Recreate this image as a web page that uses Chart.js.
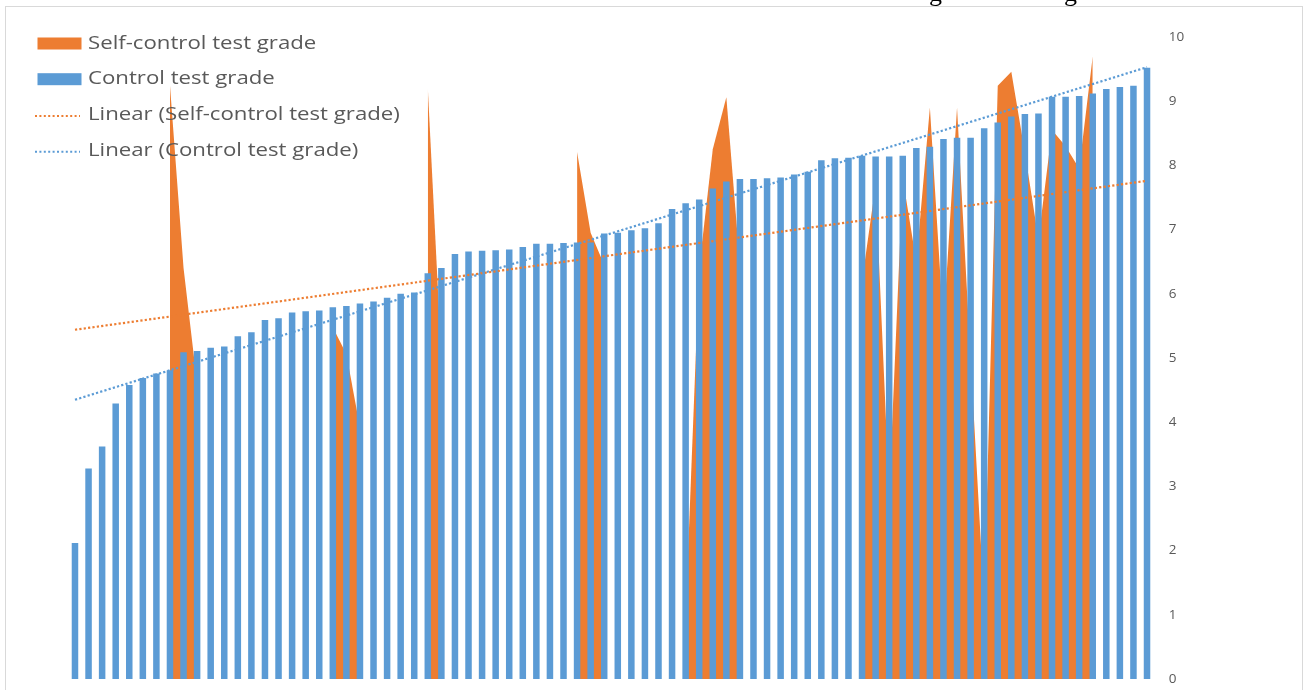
<!DOCTYPE html>
<html>
<head>
<meta charset="utf-8">
<script src="https://cdn.jsdelivr.net/npm/chart.js@4.4.1/dist/chart.umd.min.js"></script>
<style>
  html, body { margin: 0; padding: 0; background: #ffffff; }
  #wrap { position: relative; width: 1306px; height: 690px; overflow: hidden; }
  canvas { display: block; }
</style>
</head>
<body>
<div id="wrap"><canvas id="chart" width="1306" height="690"></canvas></div>
<script>
// Students 1..80, sorted by control test grade
const categories = [
  '1','2','3','4','5','6','7','8','9','10','11','12','13','14','15','16','17','18','19','20',
  '21','22','23','24','25','26','27','28','29','30','31','32','33','34','35','36','37','38','39','40',
  '41','42','43','44','45','46','47','48','49','50','51','52','53','54','55','56','57','58','59','60',
  '61','62','63','64','65','66','67','68','69','70','71','72','73','74','75','76','77','78','79','80'
];

// Control test grade (columns)
const controlGrades = [
  2.12, 3.28, 3.62, 4.29, 4.58, 4.69, 4.76, 4.81, 5.09, 5.11,
  5.16, 5.18, 5.34, 5.40, 5.59, 5.62, 5.71, 5.73, 5.74, 5.79,
  5.81, 5.85, 5.88, 5.94, 6.00, 6.02, 6.32, 6.40, 6.62, 6.66,
  6.67, 6.68, 6.69, 6.73, 6.78, 6.78, 6.79, 6.80, 6.80, 6.94,
  6.95, 6.99, 7.02, 7.10, 7.32, 7.41, 7.47, 7.64, 7.75, 7.79,
  7.79, 7.80, 7.81, 7.86, 7.90, 8.08, 8.11, 8.12, 8.15, 8.14,
  8.14, 8.15, 8.27, 8.29, 8.41, 8.43, 8.43, 8.58, 8.67, 8.76,
  8.80, 8.81, 9.07, 9.07, 9.08, 9.12, 9.19, 9.22, 9.24, 9.52
];

// Self-control test grade (area); empty cells are left as gaps
const selfControlGrades = [
  null, null, null, null, null, null, null, 9.25, 6.40, 4.60,
  null, null, null, null, null, null, null, null, null, 5.48,
  5.06, 3.92, null, null, null, null, 9.20, 5.00, null, null,
  null, null, null, null, null, null, null, 8.21, 6.95, 6.45,
  null, null, null, null, null, 1.00, 6.40, 8.25, 9.06, 6.45,
  null, null, null, null, null, null, null, null, 6.20, 7.70,
  2.90, 7.80, 6.50, 8.90, 5.50, 8.90, 5.00, 1.20, 9.24, 9.46,
  8.20, 6.85, 8.55, 8.30, 7.95, 9.70, null, null, null, null
];

// Linear trend lines: value at the first and at the last student
const selfTrendEnds = [5.44, 7.76];
const controlTrendEnds = [4.35, 9.53];

const yTicks = { min: 0, max: 10, step: 1 };

const ORANGE = '#ed7d31';
const BLUE = '#5b9bd5';
const TEXT = '#595959';

function trendSeries(ends) {
  const last = categories.length - 1;
  return categories.map((_, i) => (i === 0 ? ends[0] : i === last ? ends[1] : null));
}

// Frame, the cut-off line of text above it, and the legend drawn over the plot
const overlayPlugin = {
  id: 'overlay',
  afterDraw(chart) {
    const ctx = chart.ctx;
    ctx.save();
    // text line of the page above the chart, cut by the frame
    ctx.fillStyle = '#000000';
    ctx.font = '26px "Liberation Serif"';
    ctx.textBaseline = 'alphabetic';
    ctx.fillText('g', 929, 1);
    ctx.fillText('g', 1064, 1);
    ctx.clearRect(0, 6, 1306, 1);
    // frame
    ctx.strokeStyle = '#d9d9d9';
    ctx.lineWidth = 1;
    ctx.strokeRect(5.5, 6.5, 1297, 720);

    const rows = [
      { ds: 0, kind: 'box' },
      { ds: 1, kind: 'box' },
      { ds: 2, kind: 'dots' },
      { ds: 3, kind: 'dots' }
    ];
    const rowY = [43.5, 79.2, 115, 150.7];
    ctx.font = '18.5px "Open Sans"';
    ctx.textBaseline = 'middle';
    rows.forEach((r, k) => {
      const ds = chart.data.datasets[r.ds];
      const y = rowY[k];
      if (r.kind === 'box') {
        ctx.fillStyle = ds.backgroundColor;
        ctx.fillRect(37.5, y - 6, 44, 12);
      } else {
        ctx.strokeStyle = ds.borderColor;
        ctx.lineWidth = 2;
        ctx.setLineDash([2, 2.4]);
        ctx.beginPath();
        ctx.moveTo(35, y + 1);
        ctx.lineTo(80, y + 1);
        ctx.stroke();
        ctx.setLineDash([]);
      }
      ctx.save();
      ctx.translate(88, y);
      ctx.scale(1.2, 1);
      ctx.fillStyle = TEXT;
      ctx.fillText(ds.label, 0, 0);
      ctx.restore();
    });
    ctx.restore();
  }
};

new Chart(document.getElementById('chart'), {
  type: 'bar',
  data: {
    labels: categories,
    datasets: [
      {
        type: 'line',
        label: 'Self-control test grade',
        data: selfControlGrades,
        fill: 'origin',
        backgroundColor: ORANGE,
        borderColor: ORANGE,
        borderWidth: 0,
        pointRadius: 0,
        tension: 0,
        spanGaps: false,
        order: 3
      },
      {
        type: 'bar',
        label: 'Control test grade',
        data: controlGrades,
        backgroundColor: BLUE,
        borderWidth: 0,
        barPercentage: 0.48,
        categoryPercentage: 1,
        order: 2
      },
      {
        type: 'line',
        label: 'Linear (Self-control test grade)',
        data: trendSeries(selfTrendEnds),
        borderColor: ORANGE,
        borderWidth: 2.2,
        borderDash: [2.2, 2.2],
        pointRadius: 0,
        fill: false,
        spanGaps: true,
        order: 1
      },
      {
        type: 'line',
        label: 'Linear (Control test grade)',
        data: trendSeries(controlTrendEnds),
        borderColor: BLUE,
        borderWidth: 2.2,
        borderDash: [2.2, 2.2],
        pointRadius: 0,
        fill: false,
        spanGaps: true,
        order: 0
      }
    ]
  },
  options: {
    responsive: false,
    animation: false,
    devicePixelRatio: 1,
    layout: { padding: { left: 68.2, right: 0, top: 37, bottom: 11 } },
    plugins: { legend: { display: false }, tooltip: { enabled: false } },
    scales: {
      x: { display: false, offset: true },
      y: {
        position: 'right',
        min: yTicks.min,
        max: yTicks.max,
        ticks: {
          stepSize: yTicks.step,
          padding: 15,
          color: TEXT,
          font: { family: 'Open Sans', size: 13.5 }
        },
        grid: { display: false, drawTicks: false },
        border: { display: false },
        afterFit(scale) {
          scale.width = 1306 - 1153.8;
          scale.paddingTop = 0;
          scale.paddingBottom = 0;
        }
      }
    }
  },
  plugins: [overlayPlugin]
});
</script>
</body>
</html>
